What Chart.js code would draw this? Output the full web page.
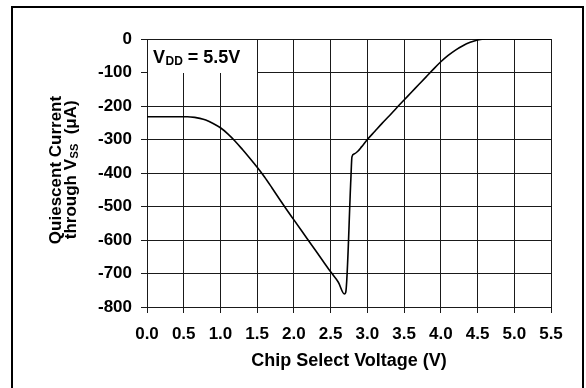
<!DOCTYPE html>
<html>
<head>
<meta charset="utf-8">
<script src="https://cdn.jsdelivr.net/npm/chart.js@4/dist/chart.umd.min.js"></script>
<style>
html,body{margin:0;padding:0;background:#fff;}
#wrap{width:586px;height:388px;position:relative;}
</style>
</head>
<body>
<div id="wrap"><canvas id="c" width="586" height="388"></canvas></div>
<script>
// ---- data ----
const voltage = [0.00, 0.30, 0.55, 0.65, 0.72, 0.80, 0.90, 1.00, 1.10, 1.20, 1.30, 1.40, 1.50, 1.60, 1.70, 1.80, 1.90, 2.00, 2.10, 2.20, 2.30, 2.40, 2.50, 2.605, 2.687, 2.705, 2.775, 2.79, 2.82, 2.87, 2.92, 3.00, 3.10, 3.20, 3.30, 3.40, 3.50, 3.60, 3.70, 3.80, 3.90, 4.00, 4.10, 4.20, 4.30, 4.40, 4.50, 4.62, 5.50];
const current = [-232, -232, -232, -234, -237, -242, -252, -265, -283, -305, -330, -356, -383, -412, -444, -477, -509, -540, -571, -602, -633, -664, -695, -726, -761, -757, -420, -352, -343, -335, -322, -300, -276, -252, -229, -205, -182, -159, -136, -113, -90, -68, -49, -33, -20, -10, -3, 0, 0];
const xTickValues = [0, 0.5, 1.0, 1.5, 2.0, 2.5, 3.0, 3.5, 4.0, 4.5, 5.0, 5.5];
const yTickValues = [0, -100, -200, -300, -400, -500, -600, -700, -800];
const xTitle = 'Chip Select Voltage (V)';
const yTitleLine1 = 'Quiescent Current';
const yTitleLine2 = ['through V', 'SS', '  (\u03bcA)'];
const noteParts = ['V', 'DD', ' = 5.5V'];
const noteBox = {x0: 0, x1: 1.5, y0: 0, y1: -100};

const FONT = "'Liberation Sans', Arial, Helvetica, sans-serif";

const points = voltage.map((v, i) => ({x: v, y: current[i]}));

const decorPlugin = {
  id: 'decor',
  beforeDatasetsDraw(chart) {
    const ctx = chart.ctx;
    const xs = chart.scales.x, ys = chart.scales.y;
    const bx0 = Math.round(xs.getPixelForValue(noteBox.x0));
    const bx1 = Math.round(xs.getPixelForValue(noteBox.x1));
    const by0 = Math.round(ys.getPixelForValue(noteBox.y0));
    const by1 = Math.round(ys.getPixelForValue(noteBox.y1));
    ctx.save();
    ctx.fillStyle = '#fff';
    ctx.fillRect(bx0 + 1, by0 + 1, bx1 - bx0 - 1, by1 - by0 - 1);
    ctx.fillStyle = '#000';
    ctx.textBaseline = 'alphabetic';
    ctx.textAlign = 'left';
    let x = bx0 + 6;
    const base = by0 + 24;
    ctx.font = 'bold 18px ' + FONT;
    ctx.fillText(noteParts[0], x, base);
    x += ctx.measureText(noteParts[0]).width + 0.5;
    ctx.font = 'bold 12px ' + FONT;
    ctx.fillText(noteParts[1], x, base + 2);
    x += ctx.measureText(noteParts[1]).width;
    ctx.font = 'bold 18px ' + FONT;
    ctx.fillText(noteParts[2], x, base);
    ctx.restore();
  },
  afterDraw(chart) {
    const ctx = chart.ctx;
    const ca = chart.chartArea;
    ctx.save();
    // outer frame
    ctx.strokeStyle = '#000';
    ctx.lineWidth = 2;
    ctx.strokeRect(12, 7, 571, 390);
    // rotated y-axis title
    const cy = (ca.top + ca.bottom) / 2 - 3;
    ctx.fillStyle = '#000';
    ctx.textBaseline = 'alphabetic';
    ctx.translate(60.5, cy);
    ctx.rotate(-Math.PI / 2);
    ctx.font = 'bold 17px ' + FONT;
    ctx.textAlign = 'center';
    ctx.fillText(yTitleLine1, 0, 0);
    ctx.textAlign = 'left';
    const shift = 15;
    ctx.font = 'bold 17px ' + FONT;
    const w1 = ctx.measureText(yTitleLine2[0]).width;
    const w3 = ctx.measureText(yTitleLine2[2]).width;
    ctx.font = 'bold 11px ' + FONT;
    const w2 = ctx.measureText(yTitleLine2[1]).width;
    let tx = -(w1 + w2 + w3) / 2;
    ctx.font = 'bold 17px ' + FONT;
    ctx.fillText(yTitleLine2[0], tx, shift);
    tx += w1 + 0.5;
    ctx.font = 'bold 11px ' + FONT;
    ctx.fillText(yTitleLine2[1], tx, shift + 2);
    tx += w2;
    ctx.font = 'bold 17px ' + FONT;
    ctx.fillText(yTitleLine2[2], tx, shift);
    ctx.restore();
  }
};

Chart.defaults.color = '#000';
Chart.defaults.font.family = FONT;

new Chart(document.getElementById('c'), {
  type: 'line',
  data: {
    datasets: [{
      data: points,
      borderColor: '#000',
      borderWidth: 1.6,
      pointRadius: 0,
      cubicInterpolationMode: 'monotone',
      fill: false
    }]
  },
  options: {
    responsive: false,
    devicePixelRatio: 1,
    animation: false,
    layout: {padding: {left: 0, top: 39, right: 35, bottom: 0}},
    plugins: {legend: {display: false}, tooltip: {enabled: false}},
    scales: {
      x: {
        type: 'linear',
        min: 0, max: 5.5,
        afterBuildTicks: s => { s.ticks = xTickValues.map(v => ({value: v})); },
        afterFit: s => { s.height = 81; },
        ticks: {
          callback: v => Number(v).toFixed(1),
          font: {size: 17, weight: 'bold'},
          color: '#000',
          padding: 11,
          maxRotation: 0, autoSkip: false
        },
        grid: {color: '#1a1a1a', lineWidth: 1, tickLength: 6, drawTicks: true},
        border: {display: true, color: '#1a1a1a', width: 1},
        title: {
          display: true,
          text: xTitle,
          font: {size: 18, weight: 'bold'},
          color: '#000',
          padding: {top: 0, bottom: 16}
        }
      },
      y: {
        type: 'linear',
        min: -800, max: 0,
        afterBuildTicks: s => { s.ticks = yTickValues.map(v => ({value: v})); },
        afterFit: s => { s.width = 147; },
        ticks: {
          font: {size: 17, weight: 'bold'},
          color: '#000',
          padding: 9,
          autoSkip: false
        },
        grid: {color: '#1a1a1a', lineWidth: 1, tickLength: 6, drawTicks: true},
        border: {display: true, color: '#1a1a1a', width: 1}
      }
    }
  },
  plugins: [decorPlugin]
});
</script>
</body>
</html>
